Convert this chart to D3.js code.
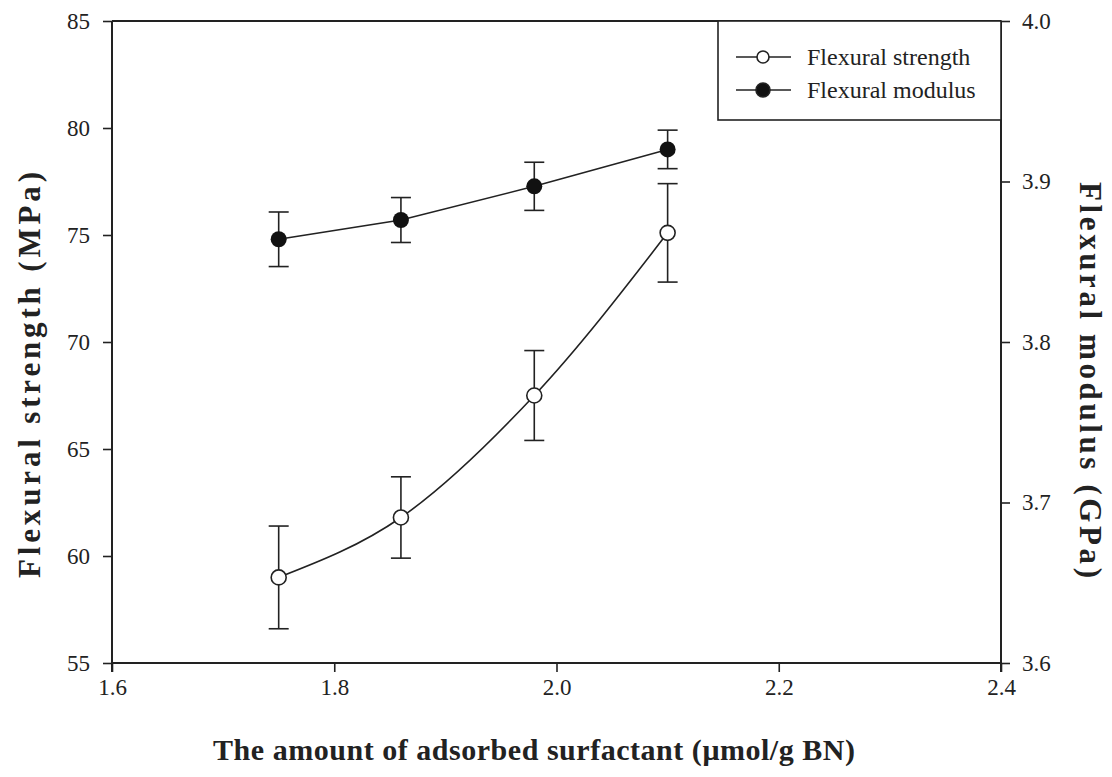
<!DOCTYPE html>
<html>
<head>
<meta charset="utf-8">
<script src="https://cdn.jsdelivr.net/npm/d3@7"></script>
<style>
  body { margin: 0; background: #fff; }
  text { font-family: "Liberation Serif", "Times New Roman", serif; fill: #222; }
</style>
</head>
<body>
<div id="chart"></div>
<script>
// data
var surfactant = [1.75, 1.86, 1.98, 2.10];
var strength = [59.0, 61.8, 67.5, 75.1];
var strengthErr = [2.4, 1.9, 2.1, 2.3];
var modulus = [3.864, 3.876, 3.897, 3.920];
var modulusErr = [0.017, 0.014, 0.015, 0.012];

var xTicks = [1.6, 1.8, 2.0, 2.2, 2.4];
var leftTicks = [55, 60, 65, 70, 75, 80, 85];
var rightTicks = [3.6, 3.7, 3.8, 3.9, 4.0];

var margin = { left: 112, right: 111, top: 21, bottom: 114 };
var width = 1112 - margin.left - margin.right;
var height = 777 - margin.top - margin.bottom;

var svg = d3.select("#chart")
    .append("svg")
    .attr("width", 1112)
    .attr("height", 777);

var g = svg.append("g")
    .attr("transform", "translate(" + margin.left + ", " + margin.top + ")");

var x = d3.scaleLinear().domain([1.6, 2.4]).range([0, width]);
var yL = d3.scaleLinear().domain([55, 85]).range([height, 0]);
var yR = d3.scaleLinear().domain([3.6, 4.0]).range([height, 0]);

var ink = "#222";

// axes
var xAxis = g.append("g")
    .attr("transform", "translate(0, " + height + ")")
    .call(d3.axisBottom(x).tickValues(xTicks).tickFormat(d3.format(".1f")).tickSize(9).tickPadding(7));

var lAxis = g.append("g")
    .call(d3.axisLeft(yL).tickValues(leftTicks).tickSize(9).tickPadding(13));

var rAxis = g.append("g")
    .attr("transform", "translate(" + width + ", 0)")
    .call(d3.axisRight(yR).tickValues(rightTicks).tickFormat(d3.format(".1f")).tickSize(9).tickPadding(12));

[xAxis, lAxis, rAxis].forEach(function(a) {
    a.select(".domain").attr("stroke", ink).attr("stroke-width", 2);
    a.selectAll(".tick line").attr("stroke", ink).attr("stroke-width", 1.6);
    a.selectAll("text").attr("font-size", "23px").attr("fill", ink)
        .style("font-family", "'Liberation Serif', serif");
});
xAxis.selectAll(".domain").attr("d", "M0,0H" + width);
lAxis.selectAll(".domain").attr("d", "M0," + (height + 9) + "V0");
rAxis.selectAll(".domain").attr("d", "M0," + (height + 9) + "V0");

// top frame line
g.append("line")
    .attr("x1", 0).attr("x2", width)
    .attr("y1", 0).attr("y2", 0)
    .attr("stroke", ink).attr("stroke-width", 2);

// error bars
function errorBars(vals, errs, y) {
    var eb = g.append("g");
    surfactant.forEach(function(s, i) {
        var cx = x(s);
        var top = y(vals[i] + errs[i]);
        var bot = y(vals[i] - errs[i]);
        eb.append("line").attr("x1", cx).attr("x2", cx).attr("y1", top).attr("y2", bot)
            .attr("stroke", ink).attr("stroke-width", 1.6);
        [top, bot].forEach(function(yy) {
            eb.append("line").attr("x1", cx - 10).attr("x2", cx + 10).attr("y1", yy).attr("y2", yy)
                .attr("stroke", ink).attr("stroke-width", 1.6);
        });
    });
}
errorBars(strength, strengthErr, yL);
errorBars(modulus, modulusErr, yR);

// lines
var lineS = d3.line()
    .x(function(d, i) { return x(surfactant[i]); })
    .y(function(d) { return yL(d); })
    .curve(d3.curveMonotoneX);
var lineM = d3.line()
    .x(function(d, i) { return x(surfactant[i]); })
    .y(function(d) { return yR(d); });

g.append("path").attr("d", lineS(strength))
    .attr("fill", "none").attr("stroke", ink).attr("stroke-width", 1.6);
g.append("path").attr("d", lineM(modulus))
    .attr("fill", "none").attr("stroke", ink).attr("stroke-width", 1.6);

// markers
g.selectAll(".open-pt")
    .data(strength)
    .enter()
    .append("circle")
    .attr("class", "open-pt")
    .attr("cx", function(d, i) { return x(surfactant[i]); })
    .attr("cy", function(d) { return yL(d); })
    .attr("r", 7.5)
    .attr("fill", "#fff")
    .attr("stroke", ink)
    .attr("stroke-width", 1.6);

g.selectAll(".fill-pt")
    .data(modulus)
    .enter()
    .append("circle")
    .attr("class", "fill-pt")
    .attr("cx", function(d, i) { return x(surfactant[i]); })
    .attr("cy", function(d) { return yR(d); })
    .attr("r", 8)
    .attr("fill", "#111");

// legend
var lg = g.append("g");
lg.append("rect")
    .attr("x", 606).attr("y", 0)
    .attr("width", width - 606).attr("height", 99)
    .attr("fill", "#fff").attr("stroke", ink).attr("stroke-width", 1.6);
var legendItems = [
    { label: "Flexural strength", filled: false },
    { label: "Flexural modulus", filled: true }
];
legendItems.forEach(function(d, i) {
    var ly = 36 + i * 33;
    lg.append("line").attr("x1", 624).attr("x2", 679).attr("y1", ly).attr("y2", ly)
        .attr("stroke", ink).attr("stroke-width", 1.6);
    lg.append("circle").attr("cx", 651).attr("cy", ly).attr("r", d.filled ? 7 : 6)
        .attr("fill", d.filled ? "#111" : "#fff")
        .attr("stroke", ink).attr("stroke-width", 1.6);
    lg.append("text").attr("x", 695).attr("y", ly + 8)
        .attr("font-size", "24px")
        .text(d.label);
});

// axis labels
svg.append("text")
    .attr("x", 534)
    .attr("y", 760)
    .attr("font-size", "30px")
    .attr("font-weight", "bold")
    .attr("text-anchor", "middle")
    .attr("textLength", 642)
    .attr("lengthAdjust", "spacing")
    .text("The amount of adsorbed surfactant (\u03bcmol/g BN)");

svg.append("text")
    .attr("transform", "translate(40, 375) rotate(-90)")
    .attr("font-size", "31px")
    .attr("font-weight", "bold")
    .attr("text-anchor", "middle")
    .attr("textLength", 406)
    .attr("lengthAdjust", "spacing")
    .text("Flexural strength (MPa)");

svg.append("text")
    .attr("transform", "translate(1080, 380) rotate(90)")
    .attr("font-size", "31px")
    .attr("font-weight", "bold")
    .attr("text-anchor", "middle")
    .attr("textLength", 396)
    .attr("lengthAdjust", "spacing")
    .text("Flexural modulus (GPa)");
</script>
</body>
</html>
